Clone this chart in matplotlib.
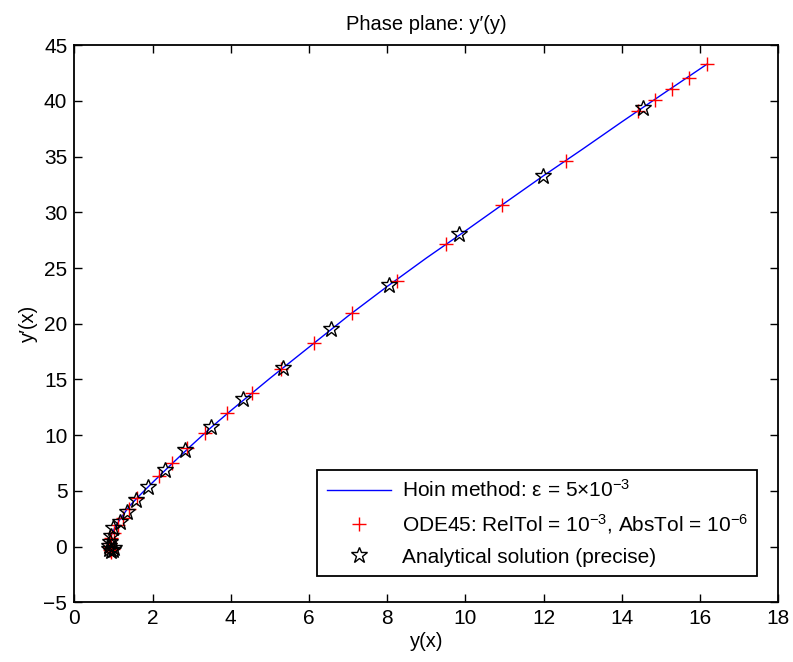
import numpy as np
import matplotlib
matplotlib.use('Agg')
import matplotlib.pyplot as plt

plt.rcParams['font.family'] = ['Liberation Sans', 'DejaVu Sans']
plt.rcParams['mathtext.fontset'] = 'custom'
plt.rcParams['mathtext.rm'] = 'Liberation Sans'
plt.rcParams['mathtext.it'] = 'Liberation Sans:italic'
plt.rcParams['mathtext.default'] = 'regular'

# Hoin (Heun) method trajectory in the phase plane (y, y')
hoin_y = [1.02, 1.0, 0.96, 0.92, 0.89, 0.88, 0.89, 0.91, 0.95, 1.05, 1.2, 1.4,
          1.7, 2.0, 2.5, 3.0, 3.5, 4.0, 5.0, 6.0, 7.0, 8.0, 9.0, 10.0, 11.0,
          12.0, 13.0, 14.0, 15.0, 16.17]
hoin_dy = [-0.1, -0.3, -0.38, -0.38, -0.3, -0.1, 0.2, 0.55, 1.05, 1.8, 2.6, 3.6,
           4.7, 5.75, 7.45, 9.1, 10.7, 12.2, 15.1, 17.9, 20.7, 23.35, 25.9, 28.34, 30.83,
           33.3, 35.69, 38.13, 40.52, 43.29]

# ODE45 points
ode_y = [0.98, 0.94, 0.9, 0.88, 0.9, 0.95, 1.02, 1.12, 1.25, 1.4, 1.61, 2.16,
         2.51, 2.87, 3.35, 3.90, 4.55, 5.29, 6.14, 7.11, 8.24, 9.50, 10.94,
         12.57, 14.40, 14.84, 15.28, 15.72, 16.17]
ode_dy = [-0.2, -0.45, -0.35, -0.05, 0.3, 0.75, 1.25, 1.9, 2.6, 3.4, 4.34, 6.38,
          7.48, 8.81, 10.24, 11.97, 13.76, 15.92, 18.30, 21.00, 23.87, 27.14, 30.69,
          34.64, 39.10, 40.12, 41.10, 42.09, 43.29]

# analytical solution points
an_y = [1.02, 0.98, 0.93, 0.89, 0.88, 0.9, 0.93, 1.0, 1.17, 1.34, 1.58, 1.88,
        2.31, 2.84, 3.50, 4.32, 5.33, 6.57, 8.05, 9.84, 11.99, 14.53]
an_dy = [-0.15, -0.35, -0.38, -0.25, 0.05, 0.45, 0.95, 1.64, 2.24, 3.13, 4.18, 5.31,
         6.88, 8.67, 10.71, 13.22, 16.06, 19.55, 23.48, 28.03, 33.30, 39.35]

fig = plt.figure(figsize=(7.93, 6.62), dpi=100)
ax = fig.add_axes([0.0937, 0.0902, 0.8878, 0.8414])

ax.plot(hoin_y, hoin_dy, color='blue', linewidth=1.0,
        label=r'Hoin method: ε = 5×10$^{-3}$')
ax.plot(ode_y, ode_dy, linestyle='none', marker='+', color='red',
        markersize=10, markeredgewidth=1.0,
        label=r'ODE45: RelTol = 10$^{-3}$, AbsTol = 10$^{-6}$')
ax.plot(an_y, an_dy, linestyle='none', marker='*', color='black',
        markerfacecolor='none', markersize=12, markeredgewidth=1.0,
        label='Analytical solution (precise)')

ax.set_xlim(0, 18)
ax.set_ylim(-5, 45)
ax.set_xticks(np.arange(0, 19, 2))
ax.set_yticks(np.arange(-5, 46, 5))
ax.tick_params(direction='in', top=True, right=True, length=6, width=1,
               labelsize=15, pad=5)
for s in ax.spines.values():
    s.set_linewidth(1.3)

ax.set_title("Phase plane: y′(y)", fontsize=14.5, pad=11)
ax.set_xlabel('y(x)', fontsize=14.5, labelpad=3)
ax.set_ylabel('y′(x)', fontsize=14.5, labelpad=4)

leg = ax.legend(loc='lower right', bbox_to_anchor=(0.970, 0.047), fontsize=15,
                frameon=True, fancybox=False, edgecolor='black',
                handlelength=3.1, handletextpad=0.5, borderpad=0.45,
                labelspacing=0.55, borderaxespad=0)
leg.get_frame().set_linewidth(1.3)
leg.get_frame().set_alpha(1)

fig.savefig('out.png', dpi=100)
